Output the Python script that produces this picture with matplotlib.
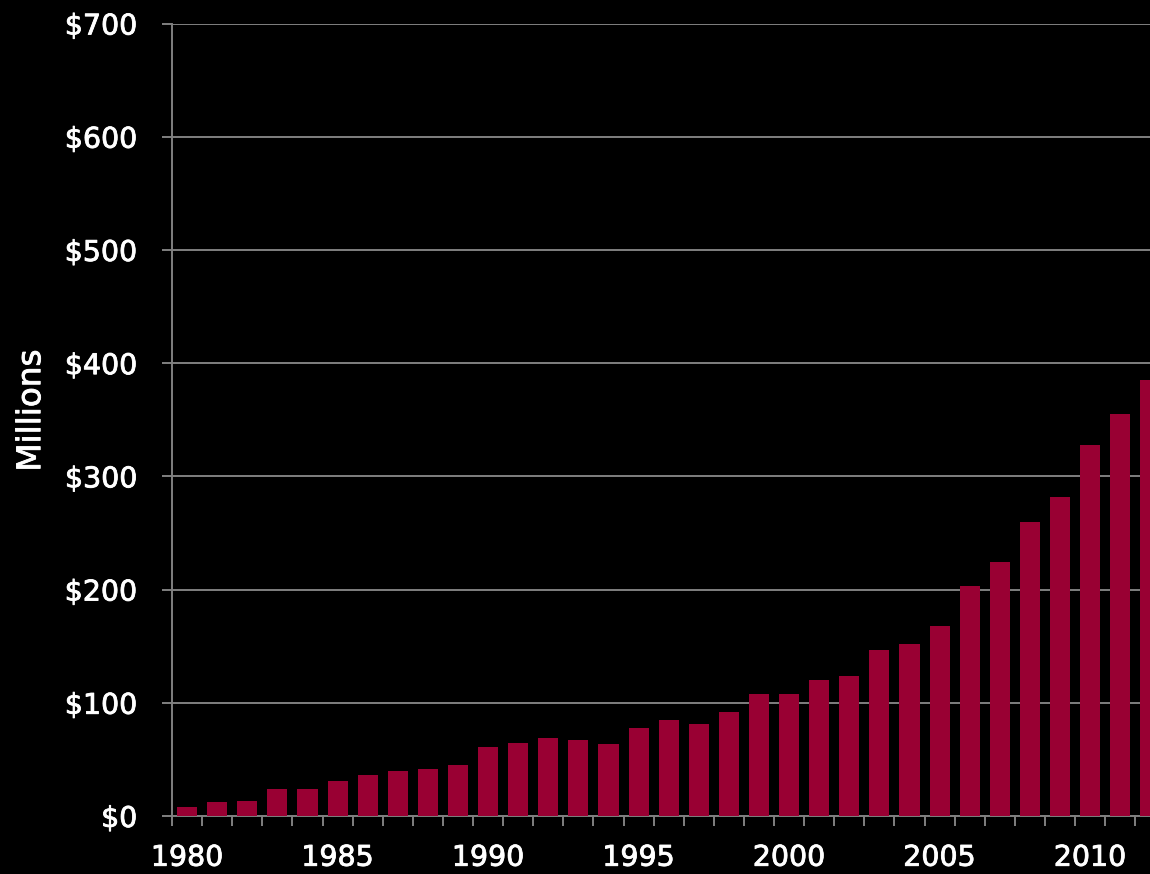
import matplotlib.pyplot as plt
import matplotlib.patheffects as pe
import numpy as np

years = list(range(1980, 2013))
values = [8, 12, 13.5, 24, 24, 31, 36, 40, 41.5, 45,
          61, 64.5, 69, 67, 64, 78, 85, 81, 92, 108,
          108, 120, 124, 147, 152, 168, 203, 224, 260, 282,
          328, 355, 385]
y_ticks = [0, 100, 200, 300, 400, 500, 600, 700]
y_labels = ['$0', '$100', '$200', '$300', '$400', '$500', '$600', '$700']
label_years = [1980, 1985, 1990, 1995, 2000, 2005, 2010]

bar_color = '#990033'
grid_color = '#808080'

plt.rcParams['font.family'] = ['DejaVu Sans']

fig = plt.figure(figsize=(11.5, 8.74), dpi=100, facecolor='black')
ax = fig.add_axes([0.1496, 0.0664, 0.8504, 0.9067], facecolor='black')

x = np.arange(len(years))
ax.bar(x, values, width=0.67, color=bar_color, zorder=3)

ax.set_ylim(0, 700)
ax.set_xlim(-0.5, 31.99)

# horizontal gridlines
ax.set_yticks(y_ticks)
ax.set_yticklabels(y_labels)
ax.yaxis.grid(True, color=grid_color, linewidth=1.4, zorder=1)

# category boundaries get the tick marks, year labels sit on bar centres
ax.set_xticks(x - 0.5, minor=True)
ax.set_xticks([years.index(y) for y in label_years])
ax.set_xticklabels([str(y) for y in label_years])

ax.tick_params(axis='x', which='major', length=0, pad=20, labelsize=20.5, colors='white')
ax.tick_params(axis='x', which='minor', length=7, width=1.4, color=grid_color, direction='out')
ax.tick_params(axis='y', length=7, width=1.4, color=grid_color, pad=18, labelsize=20.5, labelcolor='white')

for side in ['top', 'right']:
    ax.spines[side].set_visible(False)
for side in ['left', 'bottom']:
    ax.spines[side].set_color(grid_color)
    ax.spines[side].set_linewidth(1.4)

# slightly heavier text, like the original
thick = [pe.withStroke(linewidth=0.6, foreground='white')]
for lbl in ax.get_xticklabels() + ax.get_yticklabels():
    lbl.set_path_effects(thick)

fig.text(0.0267, 0.530, 'Millions', rotation=90, color='white', fontsize=23.5,
         ha='center', va='center', path_effects=thick)

fig.savefig('out.png', dpi=100, facecolor='black')
